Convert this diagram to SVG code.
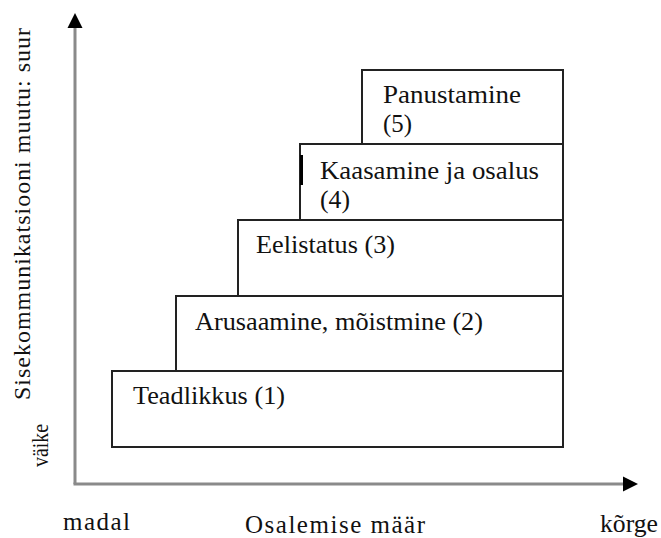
<svg xmlns="http://www.w3.org/2000/svg" width="661" height="538" viewBox="0 0 661 538">
  <style>
    .step { fill: #ffffff; stroke: #222222; stroke-width: 2; }
    .lbl { font-family: "Liberation Serif", "Times New Roman", serif; font-size: 26px; fill: #111111; }
    .axis-lbl { font-family: "Liberation Serif", "Times New Roman", serif; font-size: 25px; fill: #111111; }
    .y-lbl { font-family: "Liberation Serif", "Times New Roman", serif; font-size: 24px; fill: #111111; }
    .axis { stroke: #8a8a8a; stroke-width: 3; fill: none; }
    .head { fill: #000000; }
  </style>

  <!-- axes -->
  <g id="connectors">
    <line class="axis" x1="75" y1="484" x2="75" y2="26"/>
    <polygon class="head" points="75,13 67.5,28 82.5,28"/>
    <line class="axis" x1="73.5" y1="484" x2="625" y2="484"/>
    <polygon class="head" points="638,484 623,476.5 623,491.5"/>
  </g>

  <!-- staircase of participation levels, bottom to top -->
  <g id="step1">
    <rect class="step" x="112" y="371" width="451" height="76"/>
    <text class="lbl" x="133" y="404" textLength="152" lengthAdjust="spacingAndGlyphs">Teadlikkus (1)</text>
  </g>
  <g id="step2">
    <rect class="step" x="176" y="296" width="387" height="75"/>
    <text class="lbl" x="195" y="330" textLength="288" lengthAdjust="spacingAndGlyphs">Arusaamine, mõistmine (2)</text>
  </g>
  <g id="step3">
    <rect class="step" x="238" y="220" width="325" height="76"/>
    <text class="lbl" x="256" y="253" textLength="139" lengthAdjust="spacingAndGlyphs">Eelistatus (3)</text>
  </g>
  <g id="step4">
    <rect class="step" x="300" y="144" width="263" height="76"/>
    <rect x="300" y="155" width="3" height="30" fill="#000000"/>
    <text class="lbl" x="320" y="179" textLength="219" lengthAdjust="spacingAndGlyphs">Kaasamine ja osalus</text>
    <text class="lbl" x="320" y="208" textLength="30" lengthAdjust="spacingAndGlyphs">(4)</text>
  </g>
  <g id="step5">
    <rect class="step" x="362" y="70" width="201" height="74"/>
    <text class="lbl" x="383" y="103" textLength="138" lengthAdjust="spacingAndGlyphs">Panustamine</text>
    <text class="lbl" x="383" y="132" textLength="29" lengthAdjust="spacingAndGlyphs">(5)</text>
  </g>

  <!-- axis captions -->
  <g id="y-axis-labels">
    <text class="y-lbl" transform="translate(30,400) rotate(-90)" textLength="372" lengthAdjust="spacing">Sisekommunikatsiooni muutu:  suur</text>
    <text class="y-lbl" transform="translate(48,467) rotate(-90)" textLength="43" lengthAdjust="spacingAndGlyphs">väike</text>
  </g>
  <g id="x-axis-labels">
    <text class="axis-lbl" x="63" y="530" textLength="67" lengthAdjust="spacing">madal</text>
    <text class="axis-lbl" x="245" y="533" textLength="180" lengthAdjust="spacing">Osalemise määr</text>
    <text class="axis-lbl" x="600" y="532" textLength="58" lengthAdjust="spacingAndGlyphs">kõrge</text>
  </g>
</svg>
